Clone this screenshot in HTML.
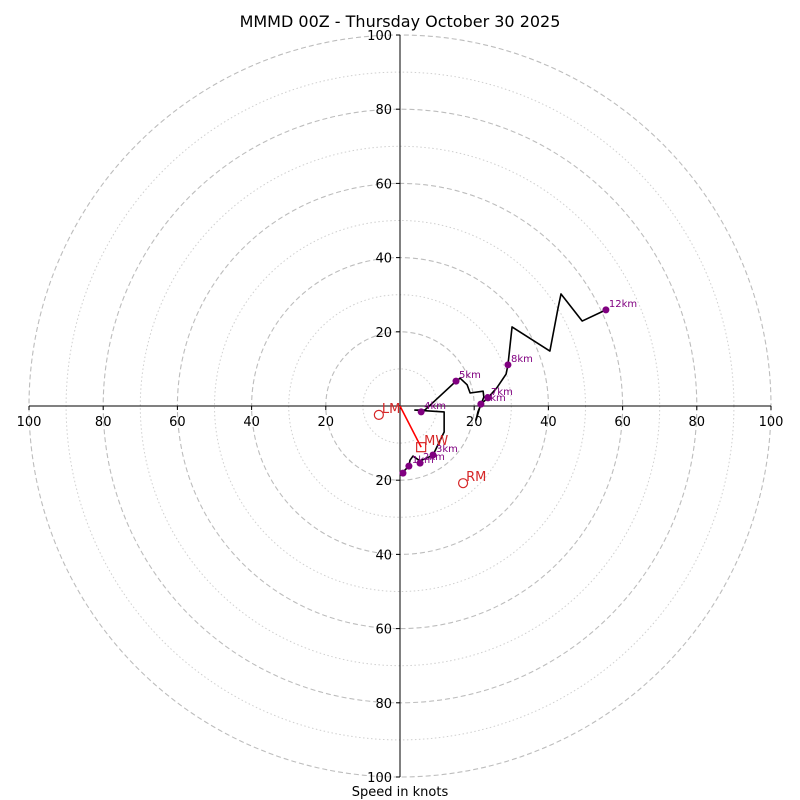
<!DOCTYPE html>
<html><head><meta charset="utf-8">
<style>
html,body{margin:0;padding:0;background:#fff;}
svg{display:block;font-family:"DejaVu Sans","Liberation Sans",sans-serif;}
</style></head>
<body>
<svg id="chart" width="800" height="800" viewBox="0 0 800 800" xmlns="http://www.w3.org/2000/svg">
<rect width="800" height="800" fill="#fff"/>
<text x="400" y="27" text-anchor="middle" font-size="16">MMMD 00Z - Thursday October 30 2025</text>
<text x="400" y="796" text-anchor="middle" font-size="13">Speed in knots</text>
<g id="rings"></g><g id="axes"></g><g id="trace"></g><g id="marks"></g>
</svg>
<script>
const ringValues=[10,20,30,40,50,60,70,80,90,100];
const tickValues=[20,40,60,80,100];
const traceU=[0.3,0.8,2.4,2.7,3.5,5.4,7.3,8.9,11.9,11.9,4.0,6.7,15.1,16.2,18.1,18.9,22.4,22.6,21.0,20.5,21.3,21.8,23.7,26.1,28.6,29.1,30.2,40.4,42.6,43.4,49.1,55.5];
const traceV=[-18.6,-17.8,-16.2,-14.6,-13.5,-14.8,-14.0,-13.2,-7.0,-1.6,-1.1,-1.1,6.7,7.5,5.7,3.5,4.0,2.4,-1.6,-3.8,-1.1,0.5,2.2,4.9,8.6,11.1,21.3,14.8,26.4,30.2,22.9,25.9];
const levelLabels=["","1km","2km","3km","4km","5km","6km","7km","8km","12km"];
const levelU=[0.8,2.4,5.4,8.9,5.7,15.1,21.8,23.7,29.1,55.5];
const levelV=[-18.1,-16.2,-15.4,-13.2,-1.6,6.7,0.5,2.2,11.1,25.9];
const motionLabels=["LM","RM","MW"];
const motionU=[-5.7,17.0,5.7];
const motionV=[-2.4,-20.8,-11.1];

const NS="http://www.w3.org/2000/svg";
const cx=400,cy=406,k=3.71;
const sx=u=>cx+u*k, sy=v=>cy-v*k;
function mk(tag,attrs,parent,txt){const e=document.createElementNS(NS,tag);for(const a in attrs)e.setAttribute(a,attrs[a]);if(txt!==undefined)e.textContent=txt;parent.appendChild(e);return e;}
const rings=document.getElementById('rings'),axes=document.getElementById('axes'),trace=document.getElementById('trace'),marks=document.getElementById('marks');
ringValues.forEach(r=>{
  const major=r%20===0;
  const c=mk('circle',{cx:cx,cy:cy,r:r*k,fill:'none',stroke:major?'#bdbdbd':'#cfcfcf','stroke-width':major?1.1:1,'stroke-dasharray':major?'5,3':'1.5,2.5'},rings);
  
  
});
let l=mk('line',{x1:sx(-100),y1:cy,x2:sx(100),y2:cy,stroke:'#000','stroke-width':1},axes);


l=mk('line',{x1:cx,y1:sy(100),x2:cx,y2:sy(-100),stroke:'#000','stroke-width':1},axes);


tickValues.forEach(t=>{
  [t,-t].forEach(s=>{
    mk('line',{x1:sx(s),y1:cy,x2:sx(s),y2:cy+4,stroke:'#000'},axes);
    const tx=mk('text',{x:sx(s),y:cy+20,'text-anchor':'middle','font-size':13},axes,String(t));
    
    
    mk('line',{x1:cx-4,y1:sy(s),x2:cx,y2:sy(s),stroke:'#000'},axes);
    const ty=mk('text',{x:cx-8,y:sy(s)+5,'text-anchor':'end','font-size':13},axes,String(t));
    
    
  });
});
const pl=mk('polyline',{points:traceU.map((u,i)=>sx(u)+','+sy(traceV[i])).join(' '),fill:'none',stroke:'#000','stroke-width':1.6,'stroke-linejoin':'round'},trace);


// mean wind arrow
const ar=mk('line',{x1:cx,y1:cy,x2:sx(motionU[2]),y2:sy(motionV[2]),stroke:'red','stroke-width':1.6},marks);


levelU.forEach((u,i)=>{
  const d=mk('circle',{cx:sx(u),cy:sy(levelV[i]),r:3.5,fill:'purple'},marks);
  
  
  if(levelLabels[i]){
    const t=mk('text',{x:sx(u)+3,y:sy(levelV[i])-3,'font-size':10,fill:'purple'},marks,levelLabels[i]);
    
    
  }
});
motionLabels.forEach((m,i)=>{
  const x=sx(motionU[i]),y=sy(motionV[i]);
  let s;
  if(m==='MW') s=mk('rect',{x:x-4.5,y:y-4.5,width:9,height:9,fill:'none',stroke:'#d62728','stroke-width':1.2},marks);
  else s=mk('circle',{cx:x,cy:y,r:4.5,fill:'none',stroke:'#d62728','stroke-width':1.2},marks);
  
  
  const t=mk('text',{x:x+3,y:y-2,'font-size':13,fill:'#d62728'},marks,m);
  
  
});
</script>
</body></html>
